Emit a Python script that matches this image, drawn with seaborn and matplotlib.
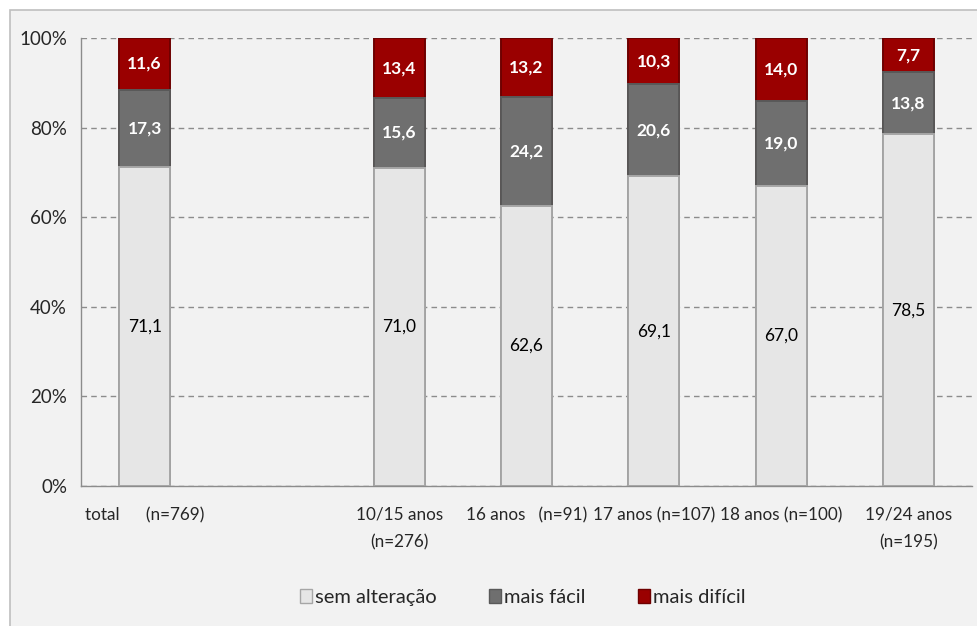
import pandas as pd
import matplotlib
matplotlib.use("Agg")
import matplotlib.pyplot as plt
import seaborn as sns
from matplotlib.patches import Patch, Rectangle

# dados (percentagens)
categorias = ["total      (n=769)", " ", "10/15 anos\n(n=276)", "16 anos   (n=91)",
              "17 anos (n=107)", "18 anos (n=100)", "19/24 anos\n(n=195)"]
grupos = ["total      (n=769)", "10/15 anos\n(n=276)", "16 anos   (n=91)",
          "17 anos (n=107)", "18 anos (n=100)", "19/24 anos\n(n=195)"]
sem_alteracao = [71.1, 71.0, 62.6, 69.1, 67.0, 78.5]
mais_facil = [17.3, 15.6, 24.2, 20.6, 19.0, 13.8]
mais_dificil = [11.6, 13.4, 13.2, 10.3, 14.0, 7.7]
series = ["sem alteração", "mais fácil", "mais difícil"]
y_ticks = [0, 20, 40, 60, 80, 100]

cores = {"sem alteração": "#E6E6E6", "mais fácil": "#6F6F6F", "mais difícil": "#9A0000"}
bordas = {"sem alteração": "#A6A6A6", "mais fácil": "#595959", "mais difícil": "#6E0000"}


def main():
    df = pd.DataFrame({"grupo": grupos, "sem alteração": sem_alteracao,
                       "mais fácil": mais_facil, "mais difícil": mais_dificil})
    # alturas acumuladas para empilhar
    df["ac1"] = df["sem alteração"]
    df["ac2"] = df["ac1"] + df["mais fácil"]
    df["ac3"] = df["ac2"] + df["mais difícil"]

    sns.set_style("white")
    plt.rcParams["font.family"] = ["Lato", "DejaVu Sans"]

    fig = plt.figure(figsize=(9.77, 6.26), dpi=100, facecolor="white")
    fig.patches.append(Rectangle((10 / 977, -0.05), 1.2, 1.034, transform=fig.transFigure,
                                 facecolor="#F2F2F2", edgecolor="#BFBFBF", linewidth=1.2,
                                 zorder=-10))
    ax = fig.add_axes([81 / 977, 1 - 486 / 626, (972 - 81) / 977, (486 - 38) / 626])
    ax.set_facecolor("none")

    # camadas de trás para a frente
    for col, nome in [("ac3", "mais difícil"), ("ac2", "mais fácil"), ("ac1", "sem alteração")]:
        sns.barplot(data=df, x="grupo", y=col, order=categorias, color=cores[nome],
                    saturation=1, width=0.4, edgecolor=bordas[nome], linewidth=1.4,
                    ax=ax, zorder=3)

    # rótulos de dados
    for i, g in enumerate(grupos):
        xpos = categorias.index(g)
        base = 0
        for nome in series:
            v = df.loc[i, nome]
            txt = f"{v:.1f}".replace(".", ",")
            if nome == "sem alteração":
                ax.text(xpos, base + v / 2, txt, ha="center", va="center",
                        fontsize=12.5, color="black", zorder=5)
            else:
                ax.text(xpos, base + v / 2, txt, ha="center", va="center",
                        fontsize=12.5, color="white", fontweight="bold", zorder=5)
            base += v

    ax.set_ylim(0, 100)
    ax.set_xlim(-0.5, len(categorias) - 0.5)
    ax.set_yticks(y_ticks)
    ax.set_yticklabels([f"{t}%" for t in y_ticks], fontsize=13.5)
    ax.set_xticks(range(len(categorias)))
    ax.set_xticklabels(categorias, fontsize=12.3, linespacing=1.85)
    ax.set_xticks([k - 0.5 for k in range(len(categorias) + 1)], minor=True)
    ax.tick_params(axis="x", which="major", length=0, pad=15)
    ax.tick_params(axis="x", which="minor", length=5, color="#8C8C8C", width=1)
    ax.tick_params(axis="y", length=5, color="#8C8C8C", width=1, pad=5)
    ax.set_xlabel("")
    ax.set_ylabel("")

    ax.yaxis.grid(True, linestyle=(0, (4, 3)), color="#8C8C8C", linewidth=1, zorder=0)
    ax.set_axisbelow(True)
    for s in ["top", "right"]:
        ax.spines[s].set_visible(False)
    for s in ["left", "bottom"]:
        ax.spines[s].set_color("#8C8C8C")
        ax.spines[s].set_linewidth(1)

    handles = [Patch(facecolor=cores[n], edgecolor=bordas[n], label=n) for n in series]
    fig.legend(handles=handles, loc="center", bbox_to_anchor=(0.535, 0.045), ncol=3,
               frameon=False, fontsize=14.5, handlelength=0.6, handleheight=0.7,
               handletextpad=0.15, columnspacing=2.6)

    fig.savefig("out.png", dpi=100, facecolor="white")


if __name__ == "__main__":
    main()
